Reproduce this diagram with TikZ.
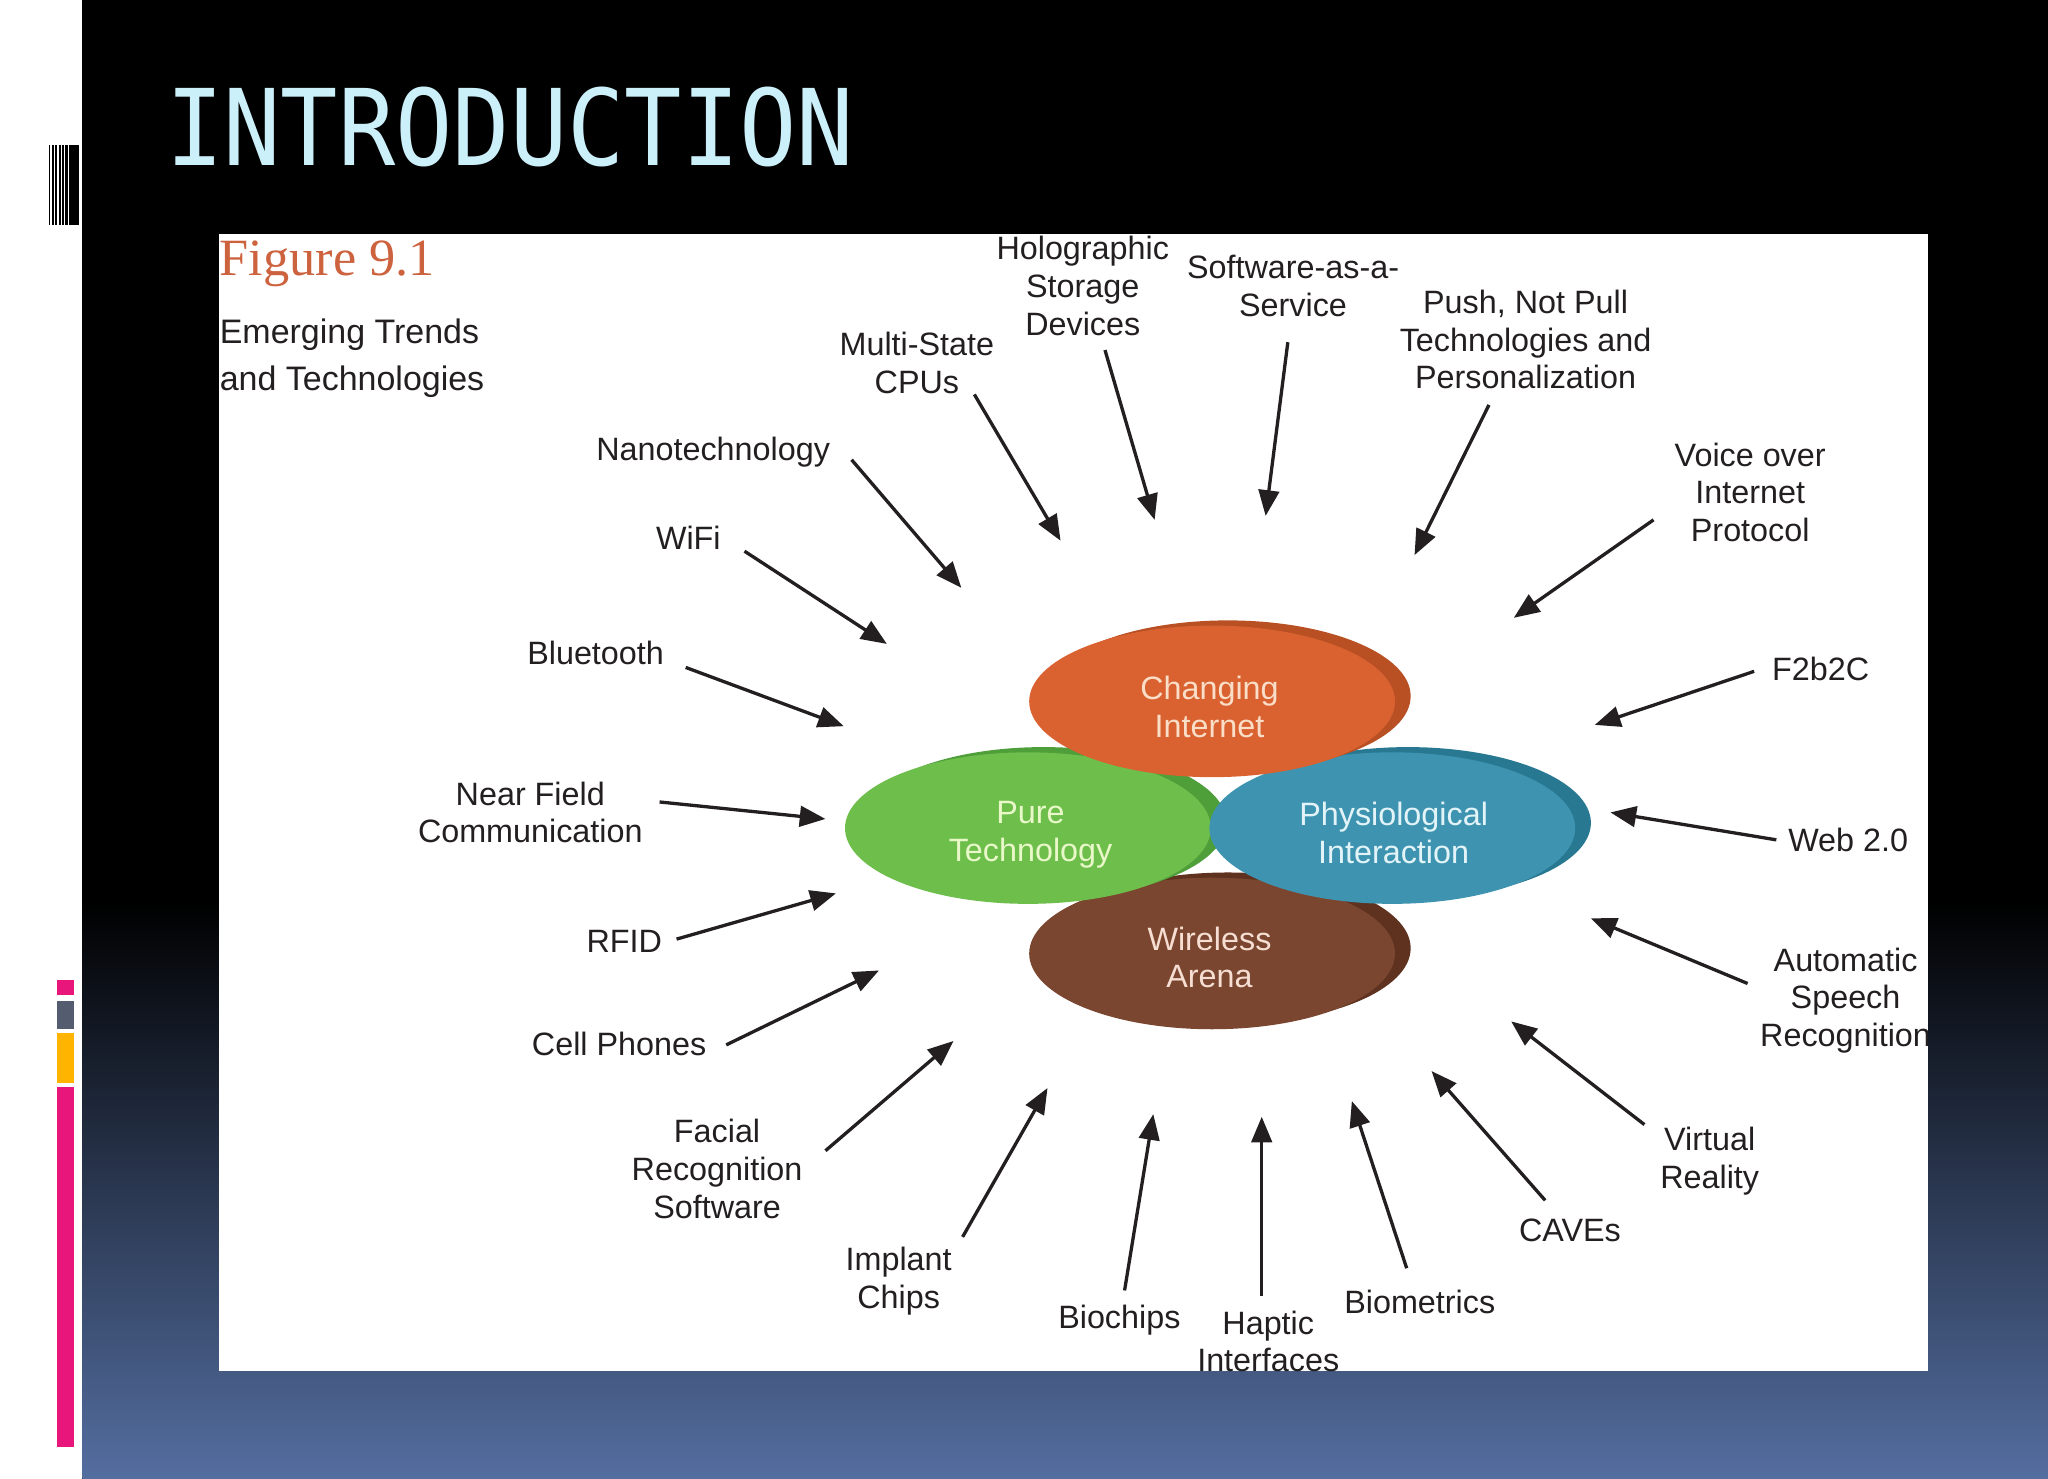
\documentclass[tikz,border=0pt]{standalone}
\usepackage{fontspec}
\usepackage{graphicx}
\setmainfont{Liberation Sans}
\newfontfamily\titlefont{DejaVu Sans Mono}
\newfontfamily\figfont{Liberation Serif}
\usetikzlibrary{arrows.meta,shapes.geometric}
\definecolor{titlecyan}{RGB}{204,240,250}
\definecolor{botblue}{RGB}{84,110,160}
\definecolor{barpink}{RGB}{232,22,122}
\definecolor{bargray}{RGB}{84,92,112}
\definecolor{barorange}{RGB}{255,180,0}
\definecolor{figred}{RGB}{205,98,62}
\definecolor{labelink}{RGB}{35,31,32}
\definecolor{orfront}{RGB}{217,98,48}
\definecolor{orback}{RGB}{184,80,36}
\definecolor{grfront}{RGB}{110,190,75}
\definecolor{grback}{RGB}{78,158,58}
\definecolor{tlfront}{RGB}{62,148,176}
\definecolor{tlback}{RGB}{40,120,146}
\definecolor{brfront}{RGB}{122,70,48}
\definecolor{brback}{RGB}{94,50,30}
\definecolor{ortext}{RGB}{250,222,200}
\definecolor{grtext}{RGB}{232,248,200}
\definecolor{tltext}{RGB}{226,244,248}
\definecolor{brtext}{RGB}{246,222,210}
\begin{document}
\begin{tikzpicture}[x=0.025cm,y=-0.025cm,
  lbl/.style={align=center,inner sep=0pt,text=labelink,
    font=\fontsize{17.6pt}{20.6pt}\selectfont},
  arr/.style={line width=1.8pt,draw=labelink,
    -{Triangle[length=14pt,width=11.2pt]}},
  blob/.style={ellipse,inner sep=0pt,minimum width=7cm,minimum height=2.9cm},
  blobtxt/.style={align=center,inner sep=0pt,
    font=\fontsize{17.6pt}{20.6pt}\selectfont}]
\useasboundingbox (0,0) rectangle (1568,1132);
% backgrounds
\fill[white] (0,0) rectangle (1568,1132);
\fill[black] (63,0) rectangle (1568,1132);
\shade[top color=black,bottom color=botblue] (63,690) rectangle (1568,1132);
% barcode marks
\foreach \a/\b in {37.4/38.6,39.9/41.2,42.4/43.8,45.0/46.5,47.6/49.0,49.8/51.8,52.6/60.7}
  \fill[black] (\a,111) rectangle (\b,172);
% coloured bars
\fill[barpink] (43.6,750) rectangle (56.7,762);
\fill[bargray] (43.6,766) rectangle (56.7,788);
\fill[barorange] (43.6,791) rectangle (56.7,829);
\fill[barpink] (43.6,832) rectangle (56.7,1108);
% title
\node[anchor=base west,inner sep=0pt,text=titlecyan,
  font=\titlefont\fontsize{57.6pt}{60pt}\selectfont] (title) at (127,127)
  {\scalebox{0.9}[1]{INTRODUCTION}};
% figure panel
\fill[white] (168,179) rectangle (1476,1050);
\begin{scope}
\clip (168,179) rectangle (1476,1050);
\node[anchor=base west,inner sep=0pt,text=figred,
  font=\figfont\fontsize{28.5pt}{30pt}\selectfont] (fig) at (168,211) {Figure 9.1};
\node[anchor=base west,inner sep=0pt,text=labelink,
  font=\fontsize{18.5pt}{25.6pt}\selectfont] (sub1) at (168,263) {Emerging Trends};
\node[anchor=base west,inner sep=0pt,text=labelink,
  font=\fontsize{18.5pt}{25.6pt}\selectfont] (sub2) at (168,299) {and Technologies};
% central ellipses
\node[blob,fill=brback] (wab) at (940,726) {};
\node[blob,fill=brfront] (wa) at (928,730) {};
\node[blob,fill=grback] (ptb) at (799,630) {};
\node[blob,fill=grfront] (pt) at (787,634) {};
\node[blob,fill=tlback] (pib) at (1078,630) {};
\node[blob,fill=tlfront] (pi) at (1066,634) {};
\node[blob,fill=orback] (cib) at (940,533) {};
\node[blob,fill=orfront] (ci) at (928,537) {};
\node[blobtxt,text=ortext] (cit) at (926,541) {Changing\\Internet};
\node[blobtxt,text=grtext] (ptt) at (789,639) {Pure\\Technology};
\node[blobtxt,text=tltext] (pit) at (1067,638) {Physiological\\Interaction};
\node[blobtxt,text=brtext] (wat) at (926,733) {Wireless\\Arena};
% labels
\node[lbl] (l1) at (829,219) {Holographic\\Storage\\Devices};
\node[lbl] (l2) at (990,219) {Software-as-a-\\Service};
\node[lbl] (l3) at (1168,260) {Push, Not Pull\\Technologies and\\Personalization};
\node[lbl] (l4) at (702,278) {Multi-State\\CPUs};
\node[lbl] (l5) at (546,346) {Nanotechnology};
\node[lbl] (l6) at (527,412) {WiFi};
\node[lbl] (l7) at (456,500) {Bluetooth};
\node[lbl] (l8) at (406,622) {Near Field\\Communication};
\node[lbl] (l9) at (478,721) {RFID};
\node[lbl] (l10) at (474,799) {Cell Phones};
\node[lbl] (l11) at (549,895) {Facial\\Recognition\\Software};
\node[lbl] (l12) at (688,981) {Implant\\Chips};
\node[lbl] (l13) at (857,1011) {Biochips};
\node[lbl] (l14) at (971,1027) {Haptic\\Interfaces};
\node[lbl] (l15) at (1087,997) {Biometrics};
\node[lbl] (l16) at (1202,942) {CAVEs};
\node[lbl] (l17) at (1309,889) {Virtual\\Reality};
\node[lbl] (l18) at (1413,766) {Automatic\\Speech\\Recognition};
\node[lbl] (l19) at (1415,643) {Web 2.0};
\node[lbl] (l20) at (1394,512) {F2b2C};
\node[lbl] (l21) at (1340,377) {Voice over\\Internet\\Protocol};
% arrow ends
\coordinate (s1) at (846,268);  \coordinate (e1) at (884,398);
\coordinate (s2) at (986,262);  \coordinate (e2) at (969,395);
\coordinate (s3) at (1140,310); \coordinate (e3) at (1083,425);
\coordinate (s4) at (746,302);  \coordinate (e4) at (812,414);
\coordinate (s5) at (652,352);  \coordinate (e5) at (736,450);
\coordinate (s6) at (570,422);  \coordinate (e6) at (679,493);
\coordinate (s7) at (525,511);  \coordinate (e7) at (646,556);
\coordinate (s8) at (505,614);  \coordinate (e8) at (632,627);
\coordinate (s9) at (518,719);  \coordinate (e9) at (640,684);
\coordinate (s10) at (556,800); \coordinate (e10) at (673,743);
\coordinate (s11) at (632,881); \coordinate (e11) at (730,797);
\coordinate (s12) at (737,947); \coordinate (e12) at (802,833);
\coordinate (s13) at (861,988); \coordinate (e13) at (883,853);
\coordinate (s14) at (966,992); \coordinate (e14) at (966,855);
\coordinate (s15) at (1077,971); \coordinate (e15) at (1035,843);
\coordinate (s16) at (1183,919); \coordinate (e16) at (1096,820);
\coordinate (s17) at (1259,861); \coordinate (e17) at (1157,782);
\coordinate (s18) at (1338,753); \coordinate (e18) at (1218,703);
\coordinate (s19) at (1360,643); \coordinate (e19) at (1233,622);
\coordinate (s20) at (1343,514); \coordinate (e20) at (1221,555);
\coordinate (s21) at (1266,398); \coordinate (e21) at (1159,473);
\foreach \i in {1,...,21}
  \draw[arr] (s\i) -- (e\i);
\end{scope}
\end{tikzpicture}
\end{document}
